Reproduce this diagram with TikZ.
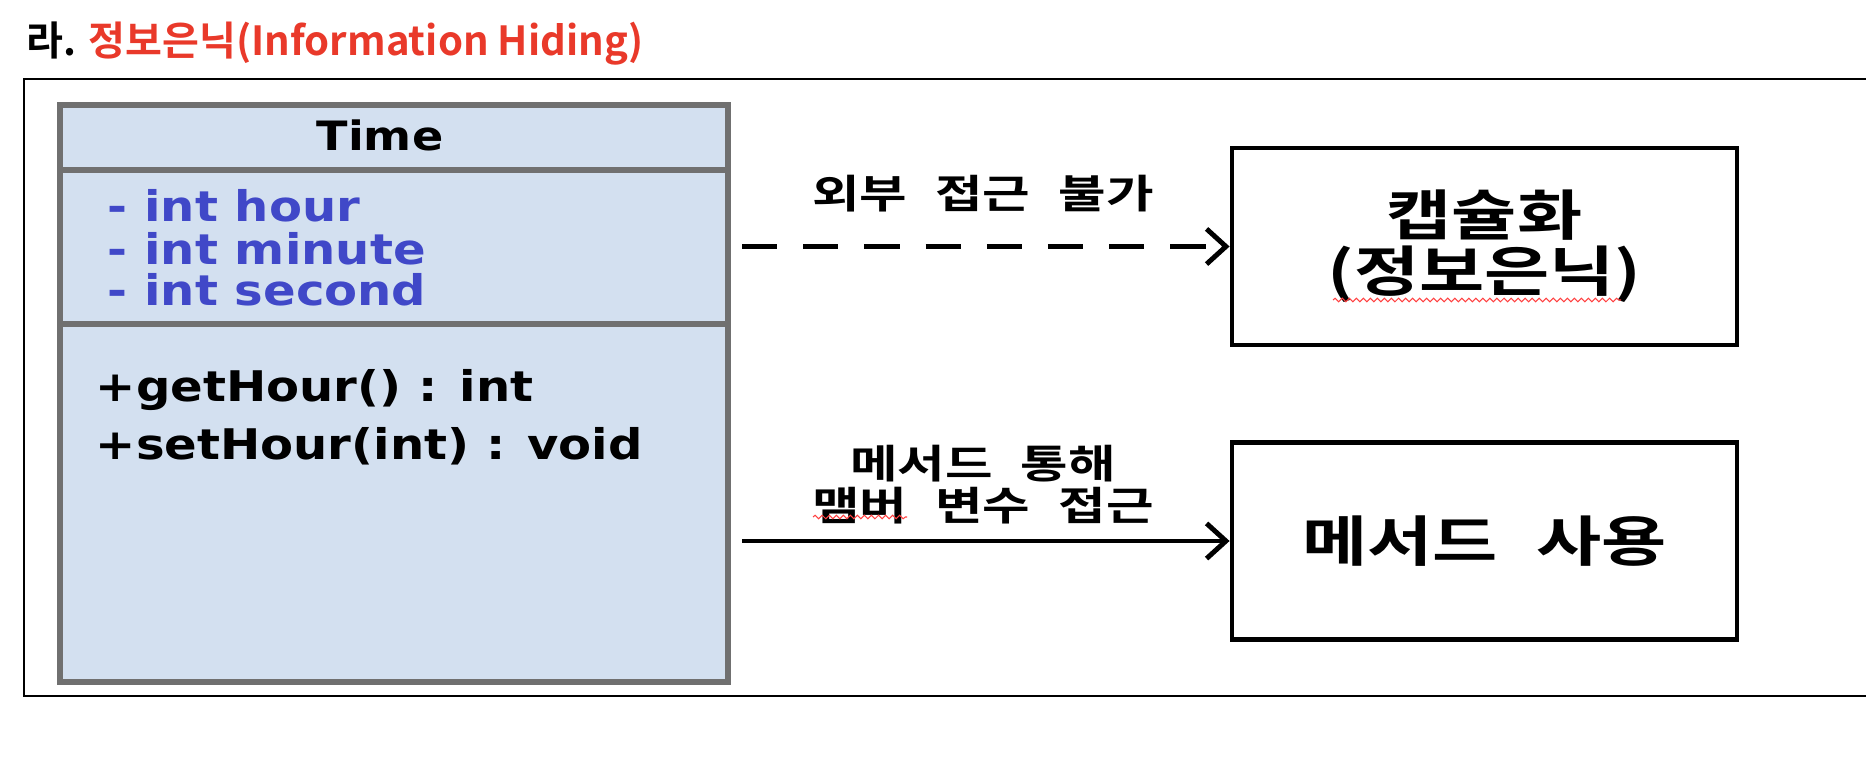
\documentclass[tikz,border=0pt]{standalone}
\usepackage{fontspec}
\setmainfont{Noto Sans CJK KR Bold}
\newfontfamily\krwide{Noto Sans CJK KR Bold}[FakeStretch=1.3,WordSpace=2.4]
\newfontfamily\umlfont{DejaVu Sans Bold}[FakeStretch=1.14]
\usetikzlibrary{arrows.meta,decorations.pathmorphing}

\definecolor{titlered}{RGB}{233,57,42}
\definecolor{classfill}{RGB}{211,224,240}
\definecolor{classline}{RGB}{112,112,112}
\definecolor{attrblue}{RGB}{64,72,200}

\tikzset{
    frameline/.style={draw=black,line width=0.8pt},
    classbox/.style={draw=classline,line width=1.9pt},
    umltext/.style={anchor=west,inner sep=0pt,text height=0.75em,text depth=0.2em,
        font=\umlfont\fontsize{12pt}{14pt}\selectfont},
    umlname/.style={umltext,anchor=center,font=\umlfont\fontsize{11.5pt}{13pt}\selectfont},
    umlattr/.style={umltext,text=attrblue},
    resultbox/.style={draw=black,line width=1.3pt,minimum width=5.05cm,minimum height=1.97cm,
        inner sep=0pt,align=center,font=\krwide\fontsize{15.5pt}{16pt}\selectfont},
    arrowlabel/.style={inner sep=0pt,align=center,font=\krwide\fontsize{11.3pt}{12pt}\selectfont},
    accessarrow/.style={line width=1.4pt,-{Straight Barb[length=5.5pt,width=10pt]}},
    squiggle/.style={draw=red!75,line width=0.3pt,decorate,
        decoration={snake,amplitude=0.5pt,segment length=2pt}}
}

\begin{document}
\begin{tikzpicture}[x=0.01cm,y=-0.01cm]
    \useasboundingbox (0,0) rectangle (1866,758);
    \clip (0,0) rectangle (1866,758);

    % heading
    \node[anchor=west,inner sep=0pt,font=\fontsize{11.4pt}{14pt}\selectfont] (title) at (26,44)
        {라. \textcolor{titlered}{정보은닉(Information Hiding)}};
    \draw[frameline] (24,79) rectangle (1900,696);

    % class Time (left side)
    \draw[classbox,fill=classfill] (60,105) rectangle (728,682);
    \draw[classbox] (60,170) -- (728,170);
    \draw[classbox] (60,324) -- (728,324);
    \node[umlname] (className) at (380,141) {Time};
    \node[umlattr] (attrHour) at (107,212) {- int hour};
    \node[umlattr] (attrMinute) at (107,255) {- int minute};
    \node[umlattr] (attrSecond) at (107,296) {- int second};
    \node[umltext] (getHour) at (95,392) {+getHour() : int};
    \node[umltext] (setHour) at (95,450) {+setHour(int) : void};

    % result boxes (right side)
    \node[resultbox] (capsule) at (1484.5,246.5) {캡슐화\\(정보은닉)};
    \node[resultbox] (methodUse) at (1484.5,541) {메서드 사용};

    % access arrows
    \coordinate (hideFrom) at (742,246.5);
    \coordinate (useFrom) at (742,541);
    \draw[accessarrow,dash pattern=on 10pt off 7.4pt] (hideFrom) -- (capsule);
    \draw[accessarrow] (useFrom) -- (methodUse);
    \node[arrowlabel] (hideLabel) at (983,194) {외부 접근 불가};
    \node[arrowlabel] (useLabel) at (983,485) {메서드 통해\\맴버 변수 접근};

    % spell check marks
    \draw[squiggle] (813,517) -- (907,517);
    \draw[squiggle] (1333,300) -- (1621,300);
\end{tikzpicture}
\end{document}
